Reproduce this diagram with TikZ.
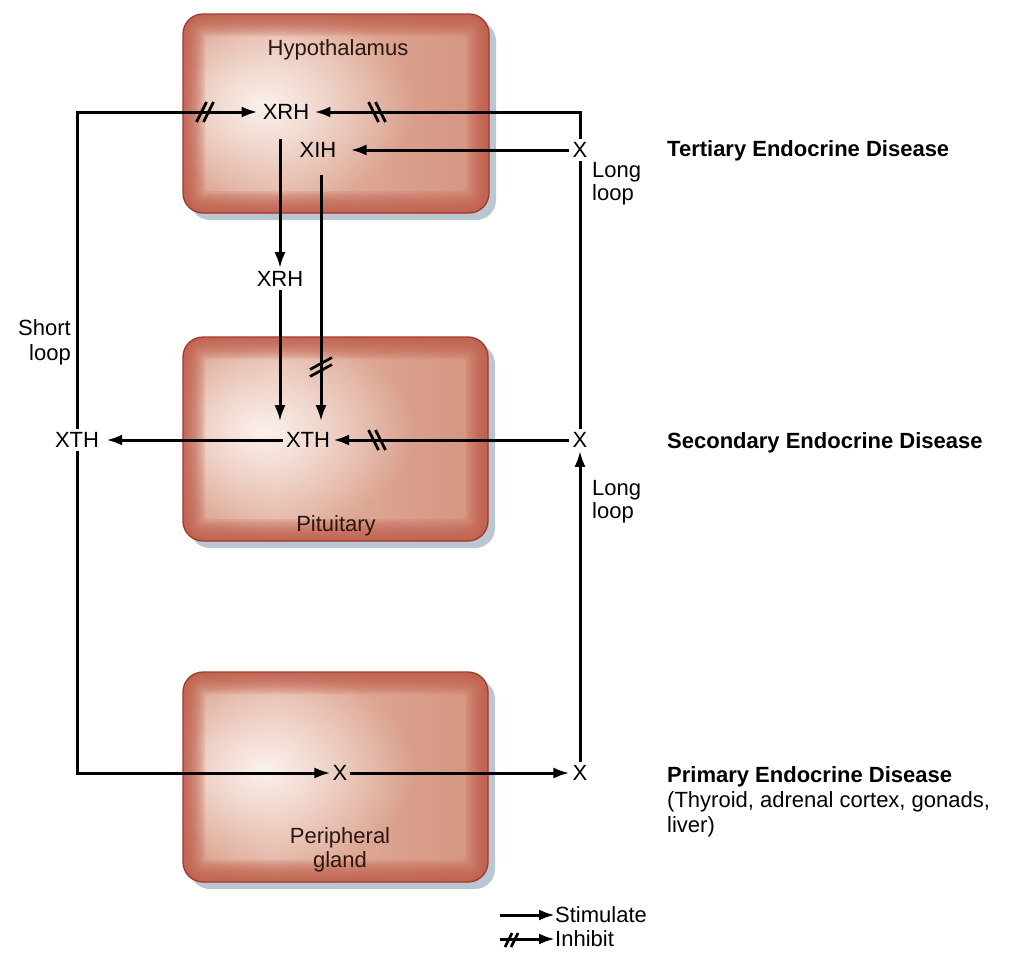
\documentclass[tikz,border=0pt]{standalone}
\usepackage{fontspec}
\setmainfont{Liberation Sans}
\usetikzlibrary{arrows.meta,fadings}
\definecolor{edgec}{HTML}{BF5C4A}
\definecolor{borderc}{HTML}{9F3A2E}
\definecolor{shadowc}{HTML}{BAC6D1}
\definecolor{sa}{HTML}{D89A86}
\definecolor{sm}{HTML}{E3B3A1}
\definecolor{sc}{HTML}{D4937F}
\definecolor{glowc}{HTML}{FBF1EC}
\definecolor{boxtext}{HTML}{2B1611}
\pgfdeclarehorizontalshading{glandshade}{100bp}{color(0bp)=(sa); color(25bp)=(sa); color(40bp)=(sm); color(75bp)=(sc); color(100bp)=(sc)}
\tikzfading[name=glowfade, inner color=transparent!0, outer color=transparent!100]
\newcommand\gland[4]{%
  \fill[shadowc, rounded corners=20pt] ({#1+7},{#2+7}) rectangle ({#3+7},{#4+7});
  \begin{scope}
    \clip[rounded corners=20pt] (#1,#2) rectangle (#3,#4);
    \shade[shading=glandshade] (#1,#2) rectangle (#3,#4);
    \fill[glowc, path fading=glowfade] ({#1+80},{(#2+#4)/2-8}) ellipse (150 and 105);
  \end{scope}
  \foreach \k in {1,...,10}{%
    \pgfmathsetmacro\ins{\k*2.2}%
    \pgfmathsetmacro\rr{max(20-\ins,3)}%
    \fill[edgec, fill opacity=0.16, even odd rule, rounded corners=20pt] (#1,#2) rectangle (#3,#4)
      [rounded corners=\rr pt] ({#1+\ins},{#2+\ins}) rectangle ({#3-\ins},{#4-\ins});
  }
  \draw[borderc, line width=1.3pt, rounded corners=20pt] (#1,#2) rectangle (#3,#4);
}
\newcommand\inhfwd[1]{% '//' on a horizontal line
  \draw[inhmark] ([shift={(-8.5,10)}]#1) -- ++(10,-20);
  \draw[inhmark] ([shift={(-1.5,10)}]#1) -- ++(10,-20);
}
\newcommand\inhbwd[1]{% '\\' on a horizontal line
  \draw[inhmark] ([shift={(-8.5,-10)}]#1) -- ++(10,20);
  \draw[inhmark] ([shift={(-1.5,-10)}]#1) -- ++(10,20);
}
\newcommand\inhvert[1]{% on a vertical line
  \draw[inhmark] ([shift={(-11,2.5)}]#1) -- ++(22,-12);
  \draw[inhmark] ([shift={(-11,9.5)}]#1) -- ++(22,-12);
}
\begin{document}
\begin{tikzpicture}[x=1pt,y=-1pt,
  every node/.style={font=\fontsize{22}{25}\selectfont},
  hn/.style={inner sep=3pt},
  lbl/.style={anchor=base, inner sep=0pt, text=boxtext},
  side/.style={anchor=base west, inner sep=0pt},
  bold/.style={anchor=base west, inner sep=0pt, font=\fontsize{22}{25}\selectfont\bfseries},
  stimarrow/.style={line width=3pt, -{Latex[length=16pt,width=11pt]}},
  plainline/.style={line width=3pt},
  inhmark/.style={line width=2.7pt}]
\useasboundingbox (0,0) rectangle (1009,961);
\fill[white] (0,0) rectangle (1009,961);

% glands
\gland{183}{14}{489}{213}
\gland{183}{337}{488}{541}
\gland{183}{672}{488}{882}

% box labels
\node[lbl] (hyp) at (338,55) {Hypothalamus};
\node[lbl] (pit) at (336,531) {Pituitary};
\node[lbl] (per1) at (340,843) {Peripheral};
\node[lbl] (per2) at (340,867) {gland};

% hormone nodes
\node[hn, inner xsep=5pt] (xrh1) at (286,112) {XRH};
\node[hn] (xih) at (318,150) {XIH};
\node[hn] (xt) at (580,150) {X};
\node[hn] (xrh2) at (280,279) {XRH};
\node[hn] (xth1) at (308,440) {XTH};
\node[hn, inner xsep=7pt] (xth2) at (77,440) {XTH};
\node[hn] (xs) at (580,440) {X};
\node[hn, inner sep=2pt] (xp) at (340,773) {X};
\node[hn] (xpr) at (580,773) {X};

% side labels
\node[side] (ll1a) at (592,177) {Long};
\node[side] (ll1b) at (592,200) {loop};
\node[side] (ll2a) at (592,495) {Long};
\node[side] (ll2b) at (592,518) {loop};
\node[anchor=base east, inner sep=0pt] (sla) at (71,335) {Short};
\node[anchor=base east, inner sep=0pt] (slb) at (71,360) {loop};

\node[bold] (tert) at (667,156) {Tertiary Endocrine Disease};
\node[bold] (sec) at (667,448) {Secondary Endocrine Disease};
\node[bold] (prim) at (667,782) {Primary Endocrine Disease};
\node[side] (prim2) at (667,807) {(Thyroid, adrenal cortex, gonads,};
\node[side] (prim3) at (667,832) {liver)};

% connectors
\draw[stimarrow] (xth2.north) |- (xrh1.west);
\coordinate (m1) at (205,112);
\inhfwd{m1}
\draw[stimarrow] (xt.north) |- (xrh1.east);
\coordinate (m2) at (377,112);
\inhbwd{m2}
\draw[stimarrow] (xt.west) -- ([xshift=11pt]xih.east);
\draw[stimarrow] (xrh2.north |- xih.north) -- (xrh2.north);
\coordinate (xihfoot) at (321,175);
\draw[stimarrow] (xihfoot) -- ([yshift=8pt]xihfoot |- xth1.north);
\coordinate (m3) at (321,367);
\inhvert{m3}
\draw[stimarrow] (xrh2.south) -- ([yshift=8pt]xrh2.south |- xth1.north);
\draw[stimarrow] (xth1.west) -- (xth2.east);
\draw[stimarrow] (xs.west) -- (xth1.east);
\coordinate (m4) at (377,440);
\inhbwd{m4}
\draw[plainline] (xs.north) -- (xt.south);
\draw[stimarrow] (xth2.south) |- (xp.west);
\draw[stimarrow] (xp.east) -- (xpr.west);
\draw[stimarrow] (xpr.north) -- (xs.south);

% legend
\node[side] (stim) at (555,922) {Stimulate};
\node[side] (inh) at (555,946) {Inhibit};
\coordinate (ls1) at (500,915);
\coordinate (ls2) at (500,939);
\draw[stimarrow] (ls1) -- (ls1 -| stim.west);
\draw[stimarrow] (ls2) -- (ls2 -| inh.west);
\draw[inhmark] (505,947) -- ++(7,-14);
\draw[inhmark] (511,947) -- ++(7,-14);
\end{tikzpicture}
\end{document}
